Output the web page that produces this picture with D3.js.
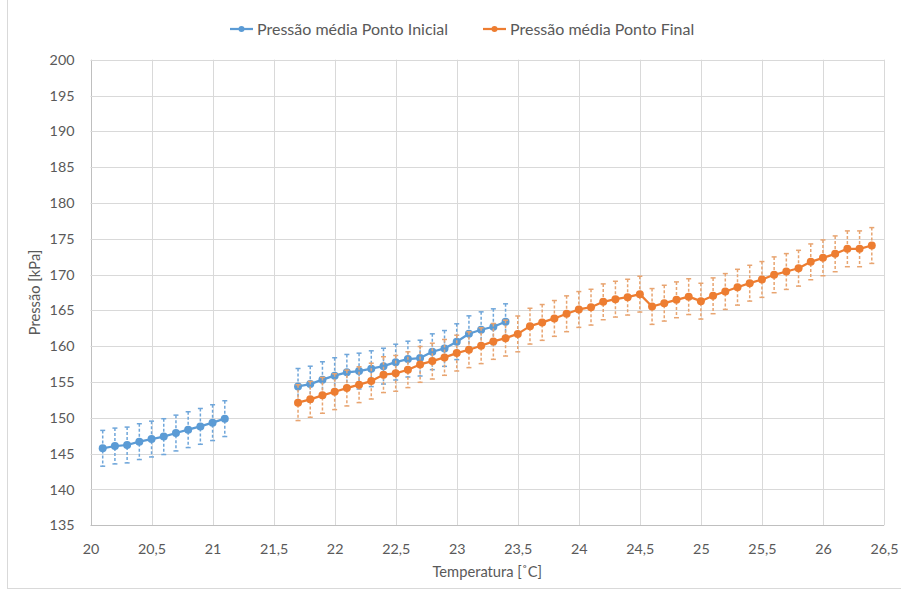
<!DOCTYPE html>
<html>
<head>
<meta charset="utf-8">
<script src="https://cdn.jsdelivr.net/npm/d3@7"></script>
<style>
  body { margin: 0; background: #fff; }
  svg text { font-family: Lato, "Open Sans", sans-serif; fill: #595959; }
</style>
</head>
<body>
<svg id="chart"></svg>
<script>
// temperaturas [°C] e pressões [kPa] (null = célula vazia)
const tempInicial = [20.1, 20.2, 20.3, 20.4, 20.5, 20.6, 20.7, 20.8, 20.9, 21.0, 21.1,
  21.2, 21.3, 21.4, 21.5, 21.6,
  21.7, 21.8, 21.9, 22.0, 22.1, 22.2, 22.3, 22.4, 22.5, 22.6, 22.7, 22.8, 22.9,
  23.0, 23.1, 23.2, 23.3, 23.4];
const presInicial = [145.75, 146.07, 146.21, 146.68, 147.04, 147.38, 147.88, 148.35, 148.81, 149.33, 149.89,
  null, null, null, null, null,
  154.39, 154.71, 155.33, 155.89, 156.35, 156.53, 156.86, 157.22, 157.78, 158.2, 158.34, 159.23, 159.69,
  160.63, 161.74, 162.3, 162.72, 163.42];

const tempFinal = [21.7, 21.8, 21.9, 22.0, 22.1, 22.2, 22.3, 22.4, 22.5, 22.6, 22.7, 22.8, 22.9,
  23.0, 23.1, 23.2, 23.3, 23.4, 23.5, 23.6, 23.7, 23.8, 23.9, 24.0, 24.1, 24.2, 24.3, 24.4,
  24.5, 24.6, 24.7, 24.8, 24.9, 25.0, 25.1, 25.2, 25.3, 25.4, 25.5, 25.6, 25.7, 25.8, 25.9,
  26.0, 26.1, 26.2, 26.3, 26.4];
const presFinal = [152.12, 152.58, 153.14, 153.65, 154.16, 154.63, 155.13, 156.03, 156.21, 156.72, 157.46, 157.92, 158.44,
  159.04, 159.51, 160.07, 160.67, 161.13, 161.72, 162.8, 163.32, 163.88, 164.53, 165.13, 165.45, 166.2, 166.57, 166.85,
  167.27, 165.55, 166.01, 166.48, 166.92, 166.29, 167.04, 167.64, 168.24, 168.8, 169.32, 169.97, 170.43, 170.89, 171.78,
  172.34, 172.9, 173.6, 173.6, 174.06];

const erroPressao = 2.5; // barra de erro ± kPa

const xTicks = d3.range(20, 26.51, 0.5);
const yTicks = d3.range(135, 200.1, 5);

const seriesNames = ['Pressão média Ponto Inicial', 'Pressão média Ponto Final'];
const colors = ['#5B9BD5', '#ED7D31'];
const errColors = ['#6fa6da', '#e8a470'];

const W = 901, H = 591,
  plot = { l: 90.5, r: 884, t: 59.7, b: 525.3 };

const $svg = d3.select('#chart').attr('width', W).attr('height', H);

// borda do gráfico
$svg.append('rect')
  .attr('x', 7.5).attr('y', -2)
  .attr('width', W + 5).attr('height', H - 0.5)
  .attr('fill', 'none').attr('stroke', '#d9d9d9');

const xScale = d3.scaleLinear().domain([20, 26.5]).range([plot.l, plot.r]),
  yScale = d3.scaleLinear().domain([135, 200]).range([plot.b, plot.t]);

// grade
$svg.append('g').selectAll('line').data(xTicks).enter().append('line')
  .attr('x1', d => Math.round(xScale(d)) + 0.5).attr('x2', d => Math.round(xScale(d)) + 0.5)
  .attr('y1', plot.t).attr('y2', plot.b)
  .attr('stroke', (d, i) => i == 0 ? '#bfbfbf' : '#d9d9d9').attr('stroke-width', 1);
$svg.append('g').selectAll('line').data(yTicks).enter().append('line')
  .attr('x1', plot.l).attr('x2', plot.r)
  .attr('y1', d => Math.round(yScale(d)) + 0.5).attr('y2', d => Math.round(yScale(d)) + 0.5)
  .attr('stroke', (d, i) => i == 0 ? '#bfbfbf' : '#d9d9d9').attr('stroke-width', 1);

// eixos (só rótulos)
const fmt = d => d3.format('~g')(d).replace('.', ',');
$svg.append('g')
  .attr('transform', 'translate(0,' + (plot.b + 24) + ')')
  .call(d3.axisBottom(xScale).tickValues(xTicks).tickFormat(fmt).tickSize(0))
  .call(g => g.select('.domain').remove())
  .selectAll('text').attr('font-size', 14.3).attr('dy', '0.32em').attr('y', 0);
$svg.append('g')
  .attr('transform', 'translate(' + (plot.l - 16) + ',0)')
  .call(d3.axisLeft(yScale).tickValues(yTicks).tickFormat(fmt).tickSize(0))
  .call(g => g.select('.domain').remove())
  .selectAll('text').attr('font-size', 14.3).attr('x', 0);

$svg.append('text')
  .text('Temperatura [˚C]')
  .attr('text-anchor', 'middle')
  .attr('font-size', 14.7)
  .attr('transform', 'translate(' + ((plot.l + plot.r) / 2) + ',' + 577 + ')');
$svg.append('text')
  .text('Pressão [kPa]')
  .attr('text-anchor', 'middle')
  .attr('font-size', 14.7)
  .attr('transform', 'translate(40,' + ((plot.t + plot.b) / 2) + ') rotate(-90)');

const seriesData = [
  tempInicial.map((t, i) => ({ t: t, p: presInicial[i] })),
  tempFinal.map((t, i) => ({ t: t, p: presFinal[i] }))
];

const line = d3.line()
  .defined(d => d.p != null)
  .x(d => xScale(d.t))
  .y(d => yScale(d.p));

seriesData.forEach((data, s) => {
  const pts = data.filter(d => d.p != null);
  const $g = $svg.append('g').attr('class', 'serie-' + s);
  // barras de erro
  const $err = $g.append('g').selectAll('g').data(pts).enter().append('g');
  $err.append('line')
    .attr('x1', d => xScale(d.t)).attr('x2', d => xScale(d.t))
    .attr('y1', d => yScale(d.p + erroPressao)).attr('y2', d => yScale(d.p - erroPressao))
    .attr('stroke', errColors[s]).attr('stroke-width', 1.5).attr('stroke-dasharray', '3,2');
  [erroPressao, -erroPressao].forEach(e => {
    $err.append('line')
      .attr('x1', d => xScale(d.t) - 2.5).attr('x2', d => xScale(d.t) + 2.5)
      .attr('y1', d => yScale(d.p + e)).attr('y2', d => yScale(d.p + e))
      .attr('stroke', errColors[s]).attr('stroke-width', 1.5);
  });
  $g.append('path')
    .datum(data)
    .attr('d', line)
    .attr('fill', 'none')
    .attr('stroke', colors[s])
    .attr('stroke-width', 2.25)
    .attr('stroke-linejoin', 'round');
  $g.append('g').selectAll('circle').data(pts).enter().append('circle')
    .attr('cx', d => xScale(d.t)).attr('cy', d => yScale(d.p))
    .attr('r', 4).attr('fill', colors[s]);
});

// legenda
const $legend = $svg.append('g').attr('transform', 'translate(230,29)');
const legendX = [0, 253];
seriesNames.forEach((name, i) => {
  const $item = $legend.append('g').attr('transform', 'translate(' + legendX[i] + ',0)');
  $item.append('line').attr('x1', 0).attr('x2', 23).attr('y1', 0).attr('y2', 0)
    .attr('stroke', colors[i]).attr('stroke-width', 2.25);
  $item.append('circle').attr('cx', 11.5).attr('cy', 0).attr('r', 3).attr('fill', colors[i]);
  $item.append('text').text(name).attr('x', 27).attr('dy', '0.35em').attr('font-size', 16);
});
</script>
</body>
</html>
